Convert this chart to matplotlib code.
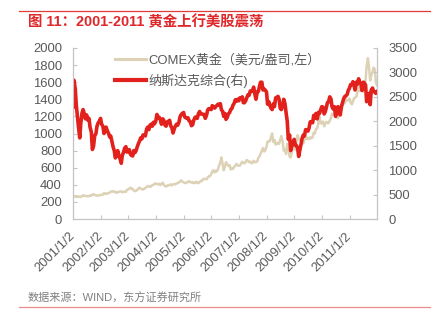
import pandas as pd
import matplotlib
matplotlib.use("Agg")
import matplotlib.pyplot as plt
from matplotlib.lines import Line2D

plt.rcParams['font.family'] = ['Liberation Sans', 'Noto Sans CJK SC']

# Semi-monthly observations, Jan 2001 - Dec 2011 (plus the last trading day)
gold = [
    # 2001
    272, 265, 266, 258, 266, 262, 257, 260, 265, 277, 268, 272,
    268, 266, 266, 275, 273, 286, 290, 280, 279, 274, 274, 277,
    # 2002
    279, 284, 285, 301, 298, 292, 300, 302, 310, 318, 325, 322,
    316, 320, 306, 312, 317, 322, 322, 313, 318, 320, 318, 340,
    # 2003
    347, 355, 368, 352, 352, 333, 327, 328, 342, 357, 366, 355,
    347, 345, 356, 362, 375, 384, 386, 375, 384, 396, 400, 410,
    # 2004
    417, 408, 404, 412, 397, 408, 425, 400, 385, 380, 392, 393,
    398, 405, 393, 405, 409, 405, 417, 420, 428, 440, 452, 438,
    # 2005
    430, 422, 420, 428, 436, 442, 428, 428, 432, 420, 420, 437,
    425, 420, 432, 445, 445, 465, 470, 468, 465, 485, 500, 500,
    # 2006
    525, 555, 570, 545, 565, 555, 585, 625, 660, 720, 640, 570,
    615, 665, 640, 620, 630, 580, 590, 585, 610, 625, 645, 625,
    # 2007
    625, 625, 650, 670, 660, 650, 665, 690, 680, 665, 670, 655,
    655, 680, 665, 665, 675, 715, 735, 765, 800, 830, 790, 800,
    # 2008
    850, 905, 910, 910, 960, 1000, 900, 925, 870, 880, 890, 880,
    930, 970, 910, 800, 810, 760, 880, 850, 730, 720, 780, 840,
    # 2009
    870, 810, 920, 980, 940, 920, 920, 890, 885, 930, 980, 935,
    940, 935, 955, 945, 955, 1010, 1000, 1050, 1060, 1120, 1200, 1120,
    # 2010
    1120, 1140, 1085, 1120, 1135, 1120, 1125, 1150, 1180, 1230, 1215, 1235,
    1210, 1195, 1180, 1225, 1250, 1270, 1315, 1370, 1355, 1400, 1385, 1390,
    # 2011
    1410, 1365, 1340, 1375, 1410, 1420, 1430, 1485, 1555, 1495, 1535, 1525,
    1490, 1590, 1620, 1790, 1880, 1780, 1620, 1680, 1720, 1770, 1750, 1600,
    1565,
]

nasdaq = [
    # 2001
    2291, 2840, 2660, 2320, 2100, 1890, 1660, 1960, 2170, 2240, 2150, 2050,
    2130, 2030, 2060, 1880, 1780, 1423, 1500, 1700, 1750, 1900, 1970, 2000,
    # 2002
    2059, 1940, 1900, 1750, 1800, 1880, 1800, 1760, 1680, 1700, 1580, 1480,
    1400, 1250, 1300, 1400, 1300, 1230, 1140, 1300, 1370, 1450, 1480, 1370,
    # 2003
    1380, 1420, 1320, 1300, 1290, 1400, 1360, 1400, 1480, 1540, 1600, 1660,
    1640, 1720, 1720, 1700, 1840, 1880, 1830, 1920, 1940, 1900, 1980, 1950,
    # 2004
    2010, 2140, 2070, 2080, 2030, 1940, 2050, 2020, 1920, 1900, 1990, 2000,
    2020, 1910, 1860, 1760, 1850, 1900, 1940, 1920, 1980, 2090, 2140, 2160,
    # 2005
    2180, 2090, 2070, 2060, 2070, 2010, 1990, 1910, 1930, 2020, 2080, 2090,
    2060, 2150, 2200, 2150, 2150, 2140, 2140, 2060, 2130, 2230, 2260, 2250,
    # 2006
    2240, 2320, 2300, 2270, 2300, 2320, 2350, 2330, 2360, 2240, 2200, 2100,
    2160, 2040, 2080, 2150, 2180, 2240, 2260, 2330, 2370, 2440, 2410, 2450,
    # 2007
    2420, 2480, 2470, 2500, 2380, 2380, 2420, 2480, 2540, 2530, 2620, 2610,
    2630, 2700, 2550, 2450, 2600, 2610, 2720, 2800, 2800, 2640, 2660, 2640,
    # 2008
    2600, 2350, 2400, 2320, 2270, 2240, 2360, 2300, 2480, 2490, 2510, 2450,
    2260, 2240, 2320, 2450, 2360, 2180, 2000, 1630, 1720, 1400, 1500, 1560,
    # 2009
    1630, 1510, 1500, 1450, 1280, 1400, 1530, 1650, 1720, 1700, 1830, 1810,
    1800, 1860, 1990, 1990, 1970, 2120, 2060, 2160, 2050, 2180, 2160, 2230,
    # 2010
    2300, 2290, 2150, 2200, 2280, 2380, 2400, 2500, 2460, 2300, 2250, 2300,
    2100, 2200, 2300, 2180, 2130, 2300, 2380, 2460, 2510, 2520, 2550, 2630,
    # 2011
    2680, 2750, 2750, 2810, 2740, 2640, 2800, 2760, 2870, 2800, 2770, 2630,
    2800, 2790, 2740, 2400, 2530, 2570, 2340, 2640, 2680, 2610, 2600, 2570,
    2605,
]

dates = list(pd.date_range('2001-01-01', '2011-12-15', freq='SMS'))
dates[0] = pd.Timestamp('2001-01-02')
dates.append(pd.Timestamp('2011-12-30'))

years = list(range(2001, 2012))
tick_dates = [pd.Timestamp(f'{y}-01-02') for y in years]
tick_labels = [f'{y}/1/2' for y in years]

gold_label = 'COMEX黄金（美元/盎司,左）'
nasdaq_label = '纳斯达克综合(右)'

GOLD = '#ddd1b6'
RED = '#e2211c'
AXIS = '#c4c4c4'
LABEL = '#595959'
FS = 9.4

fig = plt.figure(figsize=(4.41, 3.22), dpi=100)
ax = fig.add_axes([73 / 441, 1 - 219 / 322, (377 - 73) / 441, (219 - 48) / 322])
ax2 = ax.twinx()

ax.plot(dates, gold, color=GOLD, lw=1.8, label=gold_label)
ax2.plot(dates, nasdaq, color=RED, lw=2.6, label=nasdaq_label)

ax.set_ylim(0, 2000)
ax.set_yticks(range(0, 2001, 200))
ax2.set_ylim(0, 3500)
ax2.set_yticks(range(0, 3501, 500))
ax.set_xlim(pd.Timestamp('2001-01-02'), pd.Timestamp('2011-12-30'))
ax.set_xticks(tick_dates)
ax.set_xticklabels(tick_labels, rotation=45, ha='right', va='center',
                   rotation_mode='anchor')

for a in (ax, ax2):
    a.spines['top'].set_visible(False)
    for s in ('left', 'right', 'bottom'):
        a.spines[s].set_color(AXIS)
        a.spines[s].set_linewidth(0.8)
    a.tick_params(direction='in', length=3, width=0.8, color=AXIS,
                  labelcolor=LABEL, labelsize=FS)
ax.tick_params(axis='y', pad=8)
ax2.tick_params(axis='y', pad=8)
ax.tick_params(axis='x', pad=11)

handles = [Line2D([], [], color=GOLD, lw=2.2), Line2D([], [], color=RED, lw=3.0)]
fig.legend(handles, [gold_label, nasdaq_label], loc='upper left',
           bbox_to_anchor=(108 / 441, 1 - 47 / 322), frameon=False,
           borderpad=0, handlelength=2.4, handletextpad=0.2,
           labelspacing=0.55, fontsize=FS, labelcolor=LABEL)

# Header and footer
fig.text(28 / 441, 1 - 22.5 / 322, '图 11：2001-2011 黄金上行美股震荡',
         color='#e0282b', fontsize=10.4, fontweight='bold', va='center')
fig.add_artist(Line2D([19 / 441, 430 / 441], [1 - 11 / 322, 1 - 11 / 322],
                      color='#e03c3c', lw=0.9))
fig.text(28 / 441, 1 - 298 / 322, '数据来源：WIND，东方证券研究所',
         color='#808080', fontsize=8, va='center')
fig.add_artist(Line2D([19 / 441, 430 / 441], [1 - 307 / 322, 1 - 307 / 322],
                      color='#f08a8a', lw=0.9))

fig.savefig('out.png', dpi=100)
